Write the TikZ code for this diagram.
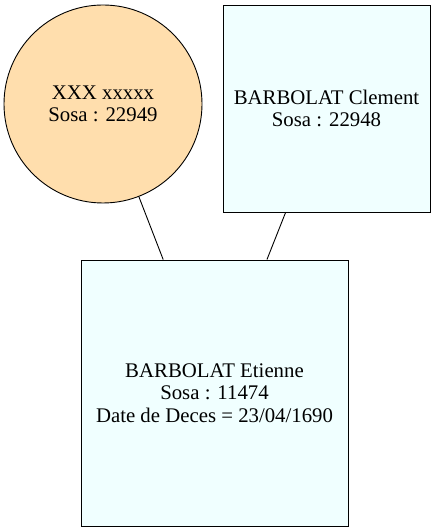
\documentclass[tikz,border=0pt]{standalone}
\usepackage{fontspec}
\setmainfont{Liberation Serif}
\definecolor{circfill}{HTML}{FFDEAD}
\definecolor{boxfill}{HTML}{F0FFFF}
\begin{document}
\begin{tikzpicture}[x=1pt,y=1pt,
  person/.style={draw=black,line width=0.9pt,align=center,inner sep=0pt,font=\fontsize{20.8}{22.5}\selectfont},
  womanbox/.style={person,circle,fill=circfill,minimum size=198pt},
  manbox/.style={person,rectangle,fill=boxfill},
  link/.style={draw=black,line width=0.9pt}]
\useasboundingbox (0,0) rectangle (435,532);
\node[womanbox] (w) at (103,428) {XXX xxxxx\\Sosa : 22949};
\node[manbox,minimum width=207pt,minimum height=207pt] (m) at (326.5,423.5) {BARBOLAT Clement\\Sosa : 22948};
\node[manbox,minimum width=267pt,minimum height=266pt] (c) at (214.5,139) {BARBOLAT Etienne\\Sosa : 11474\\Date de Deces = 23/04/1690};
\draw[link] (w) -- (c);
\draw[link] (m) -- (c);
\end{tikzpicture}
\end{document}
